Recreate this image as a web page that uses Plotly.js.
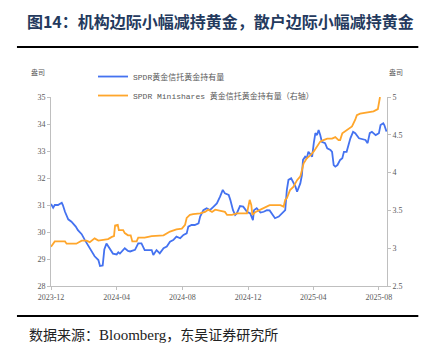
<!DOCTYPE html>
<html>
<head>
<meta charset="utf-8">
<script src="https://cdn.plot.ly/plotly-3.0.1.min.js"></script>
<style>
html,body{margin:0;padding:0;background:#fff;}
#chart{width:427px;height:353px;}
</style>
</head>
<body>
<div id="chart"></div>
<script>
// SPDR Gold Trust holdings (left axis)
const gldDates = ["2023-12-01","2023-12-05","2023-12-08","2023-12-14","2023-12-21","2023-12-23","2023-12-27",
"2024-01-02","2024-01-08","2024-01-11","2024-01-16","2024-01-20","2024-01-27","2024-02-02","2024-02-08","2024-02-14","2024-02-20","2024-02-27",
"2024-03-01","2024-03-06","2024-03-09","2024-03-13","2024-03-19","2024-03-25","2024-04-01","2024-04-04","2024-04-07","2024-04-11","2024-04-16","2024-04-22","2024-04-26",
"2024-05-05","2024-05-11","2024-05-17","2024-05-23","2024-06-05","2024-06-08","2024-06-14","2024-06-20","2024-06-27","2024-07-03","2024-07-09","2024-07-15","2024-07-21","2024-07-28",
"2024-08-03","2024-08-09","2024-08-12","2024-08-18","2024-08-24","2024-08-31","2024-09-03","2024-09-09","2024-09-15","2024-09-21","2024-09-28",
"2024-10-04","2024-10-10","2024-10-15","2024-10-19","2024-10-26","2024-10-29","2024-11-03","2024-11-07","2024-11-10","2024-11-16","2024-11-22","2024-11-29",
"2024-12-05","2024-12-10","2024-12-12","2024-12-17","2024-12-24","2024-12-30","2025-01-05","2025-01-10","2025-01-14","2025-01-20","2025-01-27",
"2025-02-02","2025-02-08","2025-02-11","2025-02-14","2025-02-19","2025-02-23","2025-02-27","2025-03-02","2025-03-05","2025-03-08","2025-03-11","2025-03-13","2025-03-17","2025-03-20","2025-03-23","2025-03-27","2025-03-30",
"2025-04-02","2025-04-05","2025-04-08","2025-04-11","2025-04-14","2025-04-17","2025-04-23","2025-04-27","2025-05-03","2025-05-06","2025-05-09","2025-05-12","2025-05-16","2025-05-21","2025-05-25","2025-05-28",
"2025-06-02","2025-06-06","2025-06-09","2025-06-14","2025-06-18","2025-06-25","2025-07-01","2025-07-07","2025-07-11","2025-07-15","2025-07-19","2025-07-26","2025-08-01","2025-08-04","2025-08-09","2025-08-11","2025-08-15"];
const gldValues = [31.04,30.9,31.0,31.0,31.08,31.0,30.75,
30.47,30.38,30.32,30.2,30.07,29.92,29.7,29.5,29.25,29.1,28.96,
28.74,28.76,29.35,29.57,29.4,29.2,29.17,29.25,29.2,29.3,29.4,29.3,29.28,
29.34,29.58,29.58,29.33,29.33,29.15,29.33,29.21,29.4,29.46,29.64,29.7,29.83,29.77,
29.89,29.95,30.2,30.26,30.26,30.32,30.57,30.81,30.88,30.81,30.94,
31.06,31.31,31.56,31.43,31.37,31.19,30.81,30.63,30.69,30.96,30.94,30.75,
30.69,30.44,30.81,30.88,30.72,30.75,30.81,30.8,30.69,30.51,30.57,
30.69,30.81,31.56,31.93,31.99,31.86,31.68,31.49,31.68,31.8,32.11,32.67,32.79,32.73,32.97,32.85,32.79,
33.29,33.66,33.59,33.78,33.59,33.34,33.29,33.1,33.04,32.97,32.48,32.42,32.48,32.67,32.73,32.97,
32.97,33.29,33.47,33.71,33.66,33.47,33.43,33.41,33.29,33.66,33.71,33.59,33.66,33.96,34.03,33.96,33.72];

// SPDR Gold MiniShares holdings (right axis)
const gldmDates = ["2023-12-01","2023-12-08","2023-12-27","2023-12-30","2024-01-17","2024-01-27","2024-02-05","2024-02-11","2024-02-20","2024-02-27",
"2024-03-07","2024-03-16","2024-03-23","2024-03-27","2024-03-29","2024-04-03","2024-04-05","2024-04-13","2024-04-16","2024-04-22","2024-04-27","2024-04-30",
"2024-05-08","2024-05-11","2024-05-23","2024-06-05","2024-06-27","2024-07-09","2024-07-21","2024-07-31","2024-08-06","2024-08-09","2024-08-15","2024-08-21",
"2024-09-03","2024-09-12","2024-09-18","2024-09-25","2024-10-01","2024-10-13","2024-10-19","2024-10-23","2024-11-01","2024-11-10","2024-11-29",
"2024-12-04","2024-12-07","2024-12-09","2024-12-15","2024-12-24","2025-01-02","2025-01-10","2025-01-30","2025-02-05","2025-02-08","2025-02-11","2025-02-17","2025-02-23",
"2025-03-02","2025-03-08","2025-03-11","2025-03-14","2025-03-20","2025-03-27","2025-04-02","2025-04-08","2025-04-14","2025-04-20","2025-04-27",
"2025-05-06","2025-05-12","2025-05-18","2025-05-21","2025-05-25","2025-06-03","2025-06-12","2025-06-18","2025-06-21","2025-06-27","2025-07-10","2025-07-22","2025-07-30","2025-08-01","2025-08-03"];
const gldmValues = [3.02,3.09,3.09,3.06,3.06,3.10,3.10,3.08,3.13,3.10,
3.11,3.12,3.15,3.16,3.30,3.31,3.24,3.24,3.20,3.17,3.17,3.09,
3.09,3.14,3.14,3.16,3.17,3.22,3.25,3.26,3.31,3.40,3.44,3.45,
3.46,3.48,3.51,3.48,3.51,3.49,3.48,3.44,3.44,3.46,3.46,
3.64,3.57,3.44,3.48,3.51,3.54,3.57,3.57,3.55,3.64,3.66,3.77,3.81,
3.90,3.95,4.03,4.12,4.19,4.23,4.28,4.34,4.41,4.43,4.45,
4.45,4.47,4.43,4.43,4.52,4.56,4.61,4.70,4.76,4.78,4.80,4.81,4.84,4.96,5.0];

const xTickVals = ["2023-12-01","2024-04-01","2024-08-01","2024-12-01","2025-04-01","2025-08-01"];
const xTickText = ["2023-12","2024-04","2024-08","2024-12","2025-04","2025-08"];
const seriesNames = ["SPDR黄金信托黄金持有量","SPDR Minishares 黄金信托黄金持有量（右轴）"];
const unitLabel = "盎司";
const titleText = "图14：机构边际小幅减持黄金，散户边际小幅减持黄金";
const sourceText = "数据来源：<span style=\"font-family:'Liberation Serif';font-size:15px\">Bloomberg</span>，东吴证券研究所";

const tickFont = {family: "'Liberation Serif', 'Noto Sans CJK SC', serif", size: 8, color: "#595959"};
const axisGray = "#BFBFBF";

const traces = [
  {x: gldDates, y: gldValues, type: "scatter", mode: "lines", name: seriesNames[0],
   line: {color: "#4472F0", width: 1.8}, yaxis: "y"},
  {x: gldmDates, y: gldmValues, type: "scatter", mode: "lines", name: seriesNames[1],
   line: {color: "#FFA62B", width: 1.8}, yaxis: "y2"}
];

const layout = {
  width: 427, height: 353,
  margin: {l: 51, r: 40, t: 97, b: 67},
  paper_bgcolor: "#fff", plot_bgcolor: "#fff",
  showlegend: true,
  title: {text: titleText, x: 0.063, xanchor: "left", xref: "container",
          y: 0.937, yanchor: "middle", yref: "container",
          font: {family: "'Noto Sans CJK SC', sans-serif", size: 16, color: "#243A5E", weight: 700}},
  legend: {x: 0.125, xanchor: "left", y: 1.185, yanchor: "top", bgcolor: "rgba(0,0,0,0)",
           font: {family: "'Liberation Mono', 'Noto Sans CJK SC', monospace", size: 8, color: "#595959"},
           tracegroupgap: 0, itemwidth: 30},
  xaxis: {type: "date", range: ["2023-12-01", "2025-08-16"],
          tickvals: xTickVals, ticktext: xTickText, tickfont: tickFont,
          showgrid: false, zeroline: false, showline: true, linecolor: axisGray, linewidth: 1,
          ticks: "outside", ticklen: 3, tickcolor: axisGray},
  yaxis: {range: [28, 35], dtick: 1, tick0: 28, tickfont: tickFont,
          showgrid: false, zeroline: false, showline: true, linecolor: axisGray, linewidth: 1,
          ticks: "outside", ticklen: 3, tickcolor: axisGray},
  yaxis2: {range: [2.5, 5], dtick: 0.5, tick0: 2.5, overlaying: "y", side: "right", tickfont: tickFont,
           showgrid: false, zeroline: false, showline: true, linecolor: axisGray, linewidth: 1,
           ticks: "outside", ticklen: 3, tickcolor: axisGray},
  shapes: [
    {type: "line", xref: "paper", yref: "paper", x0: -0.1013, x1: 1.0932, y0: 1.2646, y1: 1.2646,
     line: {color: "#000", width: 2}},
    {type: "line", xref: "paper", yref: "paper", x0: -0.1013, x1: 1.0932, y0: -0.1587, y1: -0.1587,
     line: {color: "#000", width: 2}}
  ],
  annotations: [
    {text: unitLabel, xref: "paper", yref: "paper", x: -0.038, y: 1.132, xanchor: "center", yanchor: "middle",
     showarrow: false, font: {family: "'Noto Sans CJK SC', sans-serif", size: 7, color: "#595959"}},
    {text: unitLabel, xref: "paper", yref: "paper", x: 1.028, y: 1.132, xanchor: "center", yanchor: "middle",
     showarrow: false, font: {family: "'Noto Sans CJK SC', sans-serif", size: 7, color: "#595959"}},
    {text: sourceText, xref: "paper", yref: "paper", x: -0.0715, y: -0.254, xanchor: "left", yanchor: "middle",
     showarrow: false, font: {family: "'Noto Sans CJK SC', 'Liberation Serif', serif", size: 14, color: "#222"}}
  ]
};

Plotly.newPlot("chart", traces, layout, {displayModeBar: false, staticPlot: true});
</script>
</body>
</html>
